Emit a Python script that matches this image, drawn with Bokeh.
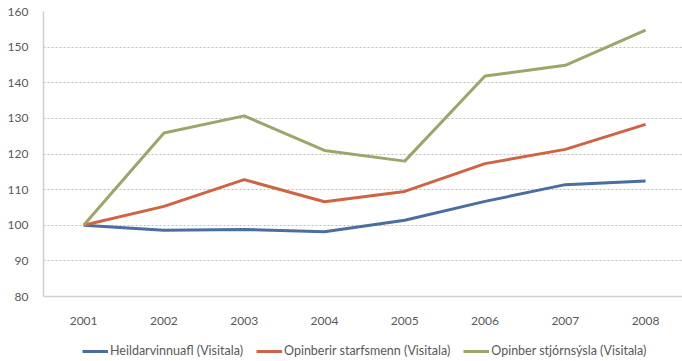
from bokeh.plotting import figure
from bokeh.layouts import column
from bokeh.models import FixedTicker, Legend, LegendItem, Range1d
from bokeh.embed import file_html
from bokeh.resources import INLINE

# Index series, 2001 = 100
years = [2001, 2002, 2003, 2004, 2005, 2006, 2007, 2008]
heildarvinnuafl = [100.0, 98.6, 98.8, 98.2, 101.4, 106.7, 111.4, 112.4]
opinberir_starfsmenn = [100.0, 105.3, 112.8, 106.6, 109.5, 117.3, 121.3, 128.3]
opinber_stjornsysla = [100.0, 125.9, 130.7, 121.0, 118.0, 141.9, 144.9, 154.8]

series_names = [
    "Heildarvinnuafl (Visitala)",
    "Opinberir starfsmenn (Visitala)",
    "Opinber stjórnsýsla (Visitala)",
]
series_values = [heildarvinnuafl, opinberir_starfsmenn, opinber_stjornsysla]
series_colors = ["#4a6e9f", "#cf6443", "#9ea56a"]
y_ticks = [80, 90, 100, 110, 120, 130, 140, 150, 160]

FONT = "Lato"
TEXT_COLOR = "#595959"

p = figure(
    width=682, height=330,
    x_range=Range1d(2000.5, 2008.46),
    y_range=Range1d(80, 160),
    output_backend="svg", toolbar_location=None,
    min_border_left=43, min_border_right=0,
    min_border_top=11, min_border_bottom=34,
)
p.outline_line_color = None
p.background_fill_color = "white"
p.border_fill_color = "white"

# Axes
p.xaxis.ticker = FixedTicker(ticks=years)
p.yaxis.ticker = FixedTicker(ticks=y_ticks)
for ax in (p.xaxis[0], p.yaxis[0]):
    ax.axis_line_color = "#d0d0d0"
    ax.axis_line_width = 1.5
    ax.major_tick_line_color = None
    ax.minor_tick_line_color = None
    ax.major_label_text_font = FONT
    ax.major_label_text_font_size = "12px"
    ax.major_label_text_color = TEXT_COLOR
p.xaxis.major_label_standoff = 14
p.yaxis.major_label_standoff = 9

# Grid
p.xgrid.grid_line_color = None
p.ygrid.grid_line_color = "#bdbdbd"
p.ygrid.grid_line_dash = "2 2"
p.ygrid.grid_line_width = 1

# Lines
for vals, color in zip(series_values, series_colors):
    p.line(years, vals, line_color=color, line_width=3, line_join="round")

# Legend strip under the chart; its line renderers lie outside the strip's
# visible range, so only the legend swatches show
leg = figure(
    width=682, height=31,
    x_range=Range1d(0, 1), y_range=Range1d(0, 1),
    x_axis_type=None, y_axis_type=None,
    output_backend="svg", toolbar_location=None,
    min_border=0,
)
leg.outline_line_color = None
leg.grid.visible = False
leg.background_fill_color = "white"
leg_renderers = [
    leg.line(years, vals, line_color=c, line_width=3)
    for vals, c in zip(series_values, series_colors)
]

# The strip's frame is aligned with the chart frame (starts 43px in)
legend = Legend(
    items=[LegendItem(label=n, renderers=[r]) for n, r in zip(series_names, leg_renderers)],
    orientation="horizontal",
    location=(39, 3),
    glyph_width=26, glyph_height=12,
    label_standoff=2, spacing=13,
    padding=0, margin=0,
    border_line_color=None,
    background_fill_alpha=0,
    label_text_font=FONT,
    label_text_font_size="12.5px",
    label_text_color=TEXT_COLOR,
)
leg.add_layout(legend, "center")

layout = column(p, leg, spacing=0)
open("out.html", "w").write(file_html(layout, INLINE))
